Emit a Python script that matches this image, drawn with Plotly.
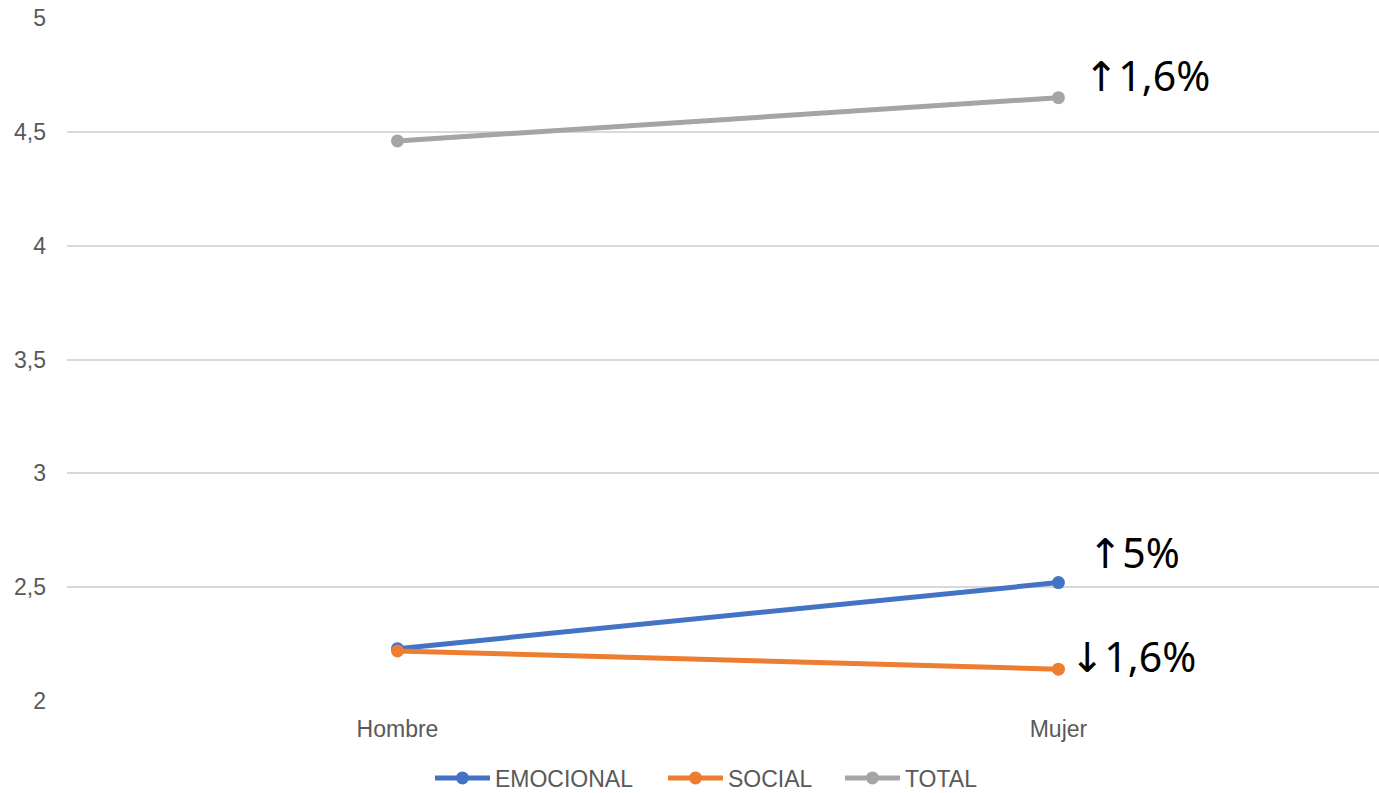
import plotly.graph_objects as go

categories = ["Hombre", "Mujer"]
emocional = [2.23, 2.52]
social = [2.22, 2.14]
total = [4.46, 4.65]

change_labels = {"EMOCIONAL": "↑5%", "SOCIAL": "↓1,6%", "TOTAL": "↑1,6%"}

series = [
    ("EMOCIONAL", emocional, "#4472C4", "legend", 0.3118),
    ("SOCIAL", social, "#ED7D31", "legend2", 0.4808),
    ("TOTAL", total, "#A5A5A5", "legend3", 0.6091),
]

xpos = list(range(len(categories)))

fig = go.Figure()
for name, vals, color, leg, _ in series:
    fig.add_trace(go.Scatter(
        x=xpos, y=vals, name=name, mode="lines+markers",
        line=dict(color=color, width=5),
        marker=dict(color=color, size=13),
        legend=leg,
    ))

# change labels next to the last point of each series
offsets = {"EMOCIONAL": (28, 31), "SOCIAL": (10, 13), "TOTAL": (24, 23)}
for name, vals, color, _, _ in series:
    dx, dy = offsets[name]
    fig.add_annotation(
        x=xpos[-1], y=vals[-1], text=change_labels[name],
        showarrow=False, xanchor="left", yanchor="middle",
        xshift=dx, yshift=dy,
        font=dict(family="Noto Sans, DejaVu Sans", size=41, color="#000000"),
    )

legend_style = dict(
    orientation="h", xref="container", yref="container",
    xanchor="left", y=0.019, yanchor="middle",
    font=dict(size=23, color="#595959"), itemwidth=55,
    bgcolor="rgba(0,0,0,0)",
)

fig.update_layout(
    width=1379, height=793,
    paper_bgcolor="white", plot_bgcolor="white",
    margin=dict(l=67, r=0, t=18, b=92, autoexpand=False),
    font=dict(family="Liberation Sans, Arial", size=23, color="#595959"),
    showlegend=True,
    legend=dict(x=series[0][4], **legend_style),
    legend2=dict(x=series[1][4], **legend_style),
    legend3=dict(x=series[2][4], **legend_style),
)
fig.update_xaxes(
    tickmode="array", tickvals=xpos, ticktext=categories,
    range=[-0.5, 1.485], showgrid=False, zeroline=False, showline=False,
    ticks="", ticklabelstandoff=12, automargin=False,
)
fig.update_yaxes(
    range=[2, 5], dtick=0.5, tickformat=".1~f",
    showgrid=True, gridcolor="#D9D9D9", gridwidth=1.5,
    zeroline=False, showline=False, ticks="", ticklabelstandoff=20,
    automargin=False,
)
fig.update_layout(separators=", ")

fig.write_html("out.html")
